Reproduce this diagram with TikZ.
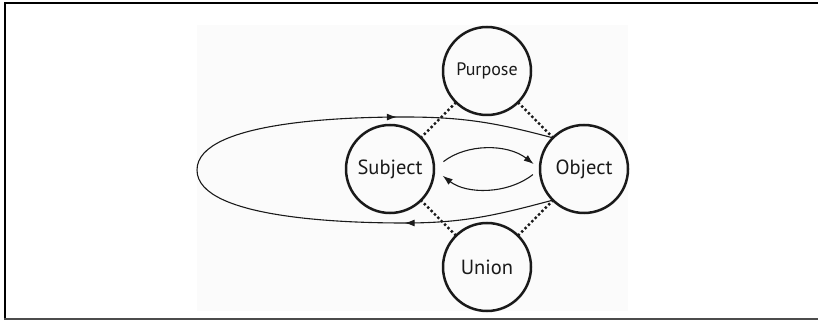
\documentclass[tikz,border=0pt]{standalone}
\usepackage{fontspec}
\setmainfont{PT Sans}
\usetikzlibrary{arrows.meta}
\usetikzlibrary{decorations.markings}
\definecolor{ink}{HTML}{1A1A1A}

\begin{document}
\begin{tikzpicture}[x=1pt,y=1pt,inner sep=0pt,outer sep=0pt,
roleball/.style={draw=ink,circle,line width=2.5pt,minimum size=88pt,text=ink,font=\fontsize{20.5}{24}\selectfont},
tie/.style={draw=ink,line width=2.4pt,dash pattern=on 2.4pt off 2.4pt},
flow/.style={draw=ink,line width=1.1pt,-{Latex[length=10pt,width=7pt]}},
loopline/.style={draw=ink,line width=1.1pt,postaction={decorate},
  decoration={markings,
  mark=at position 0.2 with {\arrow{Latex[length=10pt,width=7pt]}},
  mark=at position 0.79 with {\arrow{Latex[length=10pt,width=7pt]}}}}]

\useasboundingbox (0,0) rectangle (818,321);
\fill[black!1.5] (197,10) rectangle (628,296);
\draw[line width=2pt] (823,318) -- (5,318) -- (5,2);
\draw[line width=2pt,black!70] (4,2) -- (823,2);

\draw (487,250) node[roleball,font=\fontsize{18}{21}\selectfont] (purpose) {Purpose};
\draw (390,152) node[roleball] (subject) {Subject};
\draw (584,152) node[roleball] (object) {Object};
\draw (487,54) node[roleball] (union) {Union};

\draw[tie] (purpose) -- (subject);
\draw[tie] (purpose) -- (object);
\draw[tie] (union) -- (subject);
\draw[tie] (union) -- (object);

\draw[flow,shorten <=12pt,shorten >=8pt] (subject.east) to[bend left=38] (object.west);
\draw[flow,shorten <=9pt,shorten >=11pt] (object.west) to[bend left=38] (subject.east);

\draw[loopline] (object.-135) to[out=195,in=0] (405,98)
  to[out=180,in=-90,looseness=0.6] (197,151)
  to[out=90,in=180,looseness=0.6] (405,204)
  to[out=0,in=165] (object.135);

\end{tikzpicture}
\end{document}
